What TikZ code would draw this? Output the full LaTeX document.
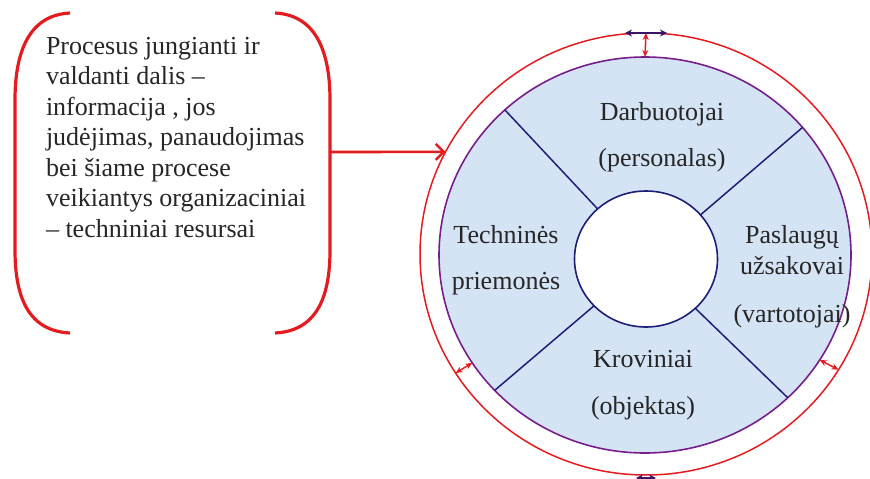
\documentclass[tikz,border=0pt]{standalone}
\usepackage{fontspec}
\setmainfont{Liberation Serif}
\usepackage{tikz}
\usetikzlibrary{arrows.meta, shapes.geometric, calc}
\definecolor{ringred}{RGB}{228,28,32}
\definecolor{discfill}{RGB}{212,228,245}
\definecolor{discedge}{RGB}{120,30,140}
\definecolor{spokeblue}{RGB}{30,30,120}
\definecolor{slidedark}{RGB}{60,20,100}

\begin{document}
\begin{tikzpicture}[x=1pt, y=-1pt,
  every node/.style={font=\fontsize{26}{30.5}\selectfont, inner sep=0pt, outer sep=0pt},
  lbl/.style={align=center, text=black!85},
  spoke/.style={draw=spokeblue, line width=1.5pt},
  brace/.style={draw=ringred, line width=3.2pt},
  gap/.style={draw=ringred, line width=1.5pt, {Stealth[length=7pt, width=6pt]}-{Stealth[length=7pt, width=6pt]}},
  slide/.style={draw=slidedark, line width=1.5pt, {Stealth[length=7pt, width=7pt]}-{Stealth[length=7pt, width=7pt]}}]
  \useasboundingbox (0,0) rectangle (870,479);

  % circles
  \node[ellipse, draw=ringred, line width=1.5pt, minimum width=452pt, minimum height=442pt] (ring) at (646,254) {};
  \node[ellipse, draw=discedge, fill=discfill, line width=1.6pt, minimum width=412pt, minimum height=396pt] (disc) at (645,255) {};
  \node[ellipse, draw=spokeblue, fill=white, line width=1.6pt, minimum width=143pt, minimum height=136pt] (hub) at (646,259) {};
  \foreach \a in {134,39,222,315}
    \draw[spoke] (hub.\a) -- (disc.\a);

  % sectors
  \node[lbl] (staff) at (662,137) {Darbuotojai\\[16pt](personalas)};
  \node[lbl] (tech) at (506,260) {Technin\.es\\[16pt]priemon\.es};
  \node[lbl] (client) at (792,277) {Paslaug\k{u}\\u\v{z}sakovai\\[18pt](vartotojai)};
  \node[lbl] (cargo) at (643,385) {Kroviniai\\[16pt](objektas)};

  % gaps between the rings
  \draw[gap] (ring.north) -- (disc.north);
  \draw[gap] (ring.212) -- (disc.212);
  \draw[gap] (ring.329) -- (disc.329);
  \draw[slide] ($(ring.north)+(-21,0)$) -- ($(ring.north)+(21,0)$);
  \draw[slide] ($(ring.south)+(-10,3)$) -- ($(ring.south)+(10,3)$);

  % note in brackets
  \node[align=left, anchor=north west, text=black!85] (note) at (46,37)
    {Procesus jungianti ir\\valdanti dalis --\\informacija , jos\\jud\.ejimas, panaudojimas\\bei \v{s}iame procese\\veikiantys organizaciniai\\-- techniniai resursai};
  \draw[brace] (70,13) .. controls (30,15) and (15,50) .. (15,100) -- (15,250) .. controls (15,300) and (30,331) .. (70,333);
  \draw[brace] (275,13) .. controls (315,15) and (330,50) .. (330,100) -- (330,250) .. controls (330,300) and (315,331) .. (275,333);
  \coordinate (tap) at (330,152);
  \draw[ringred, line width=2.6pt, -{Straight Barb[length=8pt]}] (tap) -- (ring.153);
\end{tikzpicture}
\end{document}
